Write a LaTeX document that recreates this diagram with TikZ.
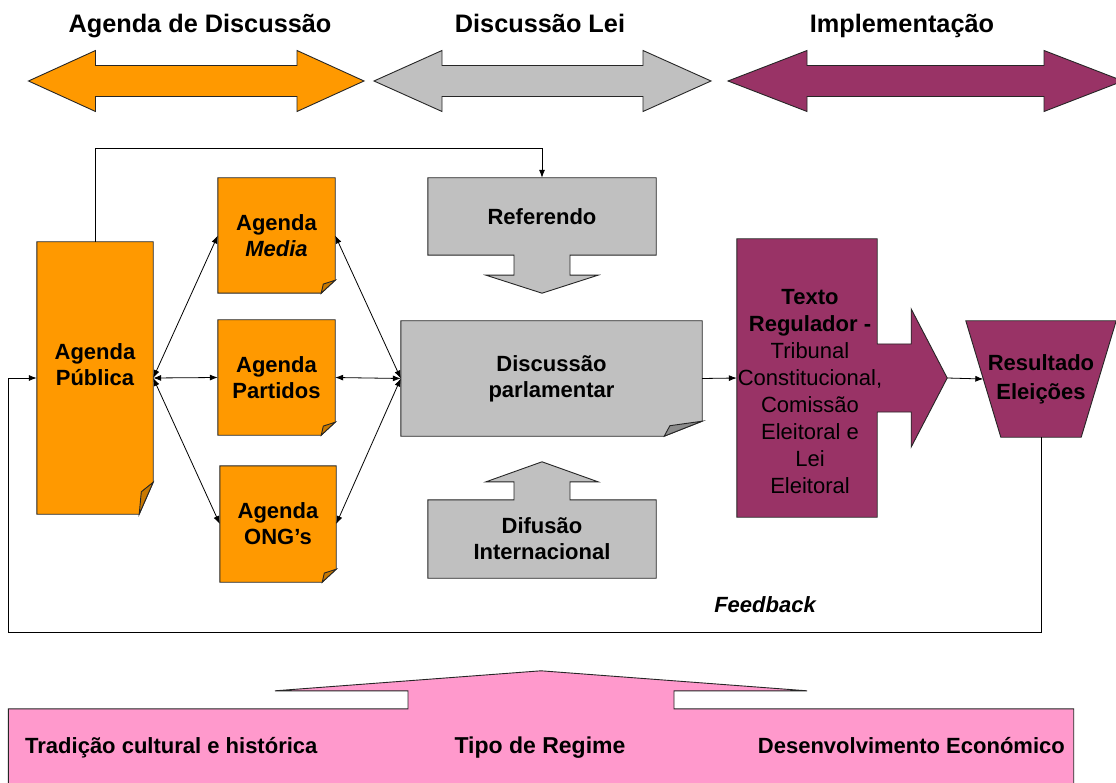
\documentclass[tikz,border=0pt]{standalone}
\usepackage{fontspec}
\setmainfont{Liberation Sans}
\usetikzlibrary{arrows.meta,backgrounds}
\definecolor{laranja}{HTML}{FF9900}
\definecolor{laranjaesc}{HTML}{C87800}
\definecolor{cinza}{HTML}{C0C0C0}
\definecolor{cinzaesc}{HTML}{8C8C8C}
\definecolor{roxo}{HTML}{993366}
\definecolor{rosa}{HTML}{FF99CC}
\definecolor{contorno}{HTML}{262626}
\tikzset{
  every node/.style={font=\bfseries\fontsize{22}{26}\selectfont,align=center,inner sep=0pt},
  box/.style 2 args={minimum width=#1pt,minimum height=#2pt},
  shape line/.style={draw=contorno,line width=0.9pt,line join=miter},
  link/.style={draw=black,line width=0.8pt,>={Latex[length=8pt,width=6pt]}},
  head/.style={font=\bfseries\fontsize{25.3}{30}\selectfont,anchor=base}
}
% folded note: node, fill, fold colour, fold width, fold height
\newcommand\note[5]{%
  \filldraw[shape line,fill=#2] (#1.north west) -- (#1.north east)
    -- ([yshift=#5pt]#1.south east) -- ([xshift=-#4pt]#1.south east)
    -- (#1.south west) -- cycle;
  \filldraw[shape line,fill=#3] ([yshift=#5pt]#1.south east)
    -- ([xshift={-0.85*#4pt},yshift={0.7*#5pt}]#1.south east)
    -- ([xshift=-#4pt]#1.south east) -- cycle;}
% double arrow: left tip, right tip, head length, colour
\newcommand\phase[4]{%
  \filldraw[shape line,fill=#4] (#1,81) -- ++(#3,-30.5) -- ++(0,15) -- (#2-#3,65.5)
    -- ++(0,-15) -- (#2,81) -- ++(-#3,30.5) -- ++(0,-15) -- (#1+#3,96.5) -- ++(0,15) -- cycle;}

\begin{document}
\begin{tikzpicture}[x=1pt,y=-1pt]
    \useasboundingbox (0,0) rectangle (1116,783);
    \begin{scope}[on background layer]
        \fill[white] (0,0) rectangle (1116,783);
    \end{scope}

    \phase{28.5}{364}{67}{laranja}
    \phase{374}{711}{68}{cinza}
    \phase{728}{1123}{79}{roxo}
    \node[head] (fase1) at (200,33) {Agenda de Discussão};
    \node[head] (fase2) at (540,33) {Discussão Lei};
    \node[head] (fase3) at (902,33) {Implementação};

    \node[box={116}{272}] (pub) at (95,378) {};
    \node (pubtxt) at (95,365) {Agenda\\Pública};
    \node[box={117}{115}] (med) at (276.5,235.5) {Agenda\\\textit{Media}};
    \node[box={117}{115}] (par) at (276.5,377.5) {Agenda\\Partidos};
    \node[box={116}{116}] (ong) at (278,524) {Agenda\\ONG’s};
    \node[box={228}{77}] (ref) at (542,216.5) {Referendo};
    \node[box={301}{115}] (dis) at (551.5,378.5) {Discussão\\parlamentar};
    \node[box={228}{78}] (dif) at (542,539) {Difusão\\Internacional};
    \node[box={140}{278}] (txt) at (807,378) {};
    \node[font=\mdseries\fontsize{22}{27}\selectfont] (txtlbl) at (810,392)
        {\textbf{Texto}\\\textbf{Regulador -}\\Tribunal\\Constitucional,\\Comissão\\Eleitoral e\\Lei\\Eleitoral};
    \node[box={115}{116},font=\bfseries\fontsize{22}{29}\selectfont] (res) at (1041,379) {Resultado\\Eleições};
    \node[box={1065}{91}] (base) at (541,754.5) {};
    \node[anchor=base west] (trad) at (25,753) {Tradição cultural e histórica};
    \node[anchor=base,font=\bfseries\fontsize{23}{26}\selectfont] (reg) at (540,753) {Tipo de Regime};
    \node[anchor=base east] (eco) at (1065,753) {Desenvolvimento Económico};
    \node[font=\bfseries\itshape\fontsize{22}{26}\selectfont] (fb) at (765,605) {Feedback};
    \coordinate (tip) at ([xshift=70pt]txt.east);
    \coordinate (canto) at (8,632);

    \begin{scope}[on background layer]
        \note{pub}{laranja}{laranjaesc}{14}{32}
        \foreach \n in {med,par,ong} {\note{\n}{laranja}{laranjaesc}{14}{13}}
        \note{dis}{cinza}{cinzaesc}{38}{15}
        \filldraw[shape line,fill=cinza] (ref.north west) -- (ref.north east) -- (ref.south east)
            -- ([xshift=28pt]ref.south) -- ++(0,20) -- ++(28,0) -- ++(-56,18) -- ++(-56,-18)
            -- ++(28,0) -- ++(0,-20) -- (ref.south west) -- cycle;
        \filldraw[shape line,fill=cinza] (dif.south west) -- (dif.south east) -- (dif.north east)
            -- ([xshift=28pt]dif.north) -- ++(0,-18) -- ++(28,0) -- ++(-56,-20) -- ++(-56,20)
            -- ++(28,0) -- ++(0,18) -- (dif.north west) -- cycle;
        \filldraw[shape line,fill=roxo] (txt.north west) -- (txt.north east)
            -- ([yshift=34pt]txt.east) -- ++(34,0) -- ++(0,-35) -- (tip) -- ++(-36,69)
            -- ++(0,-35) -- ++(-34,0) -- (txt.south east) -- (txt.south west) -- cycle;
        \filldraw[shape line,fill=roxo] ([xshift=-17.5pt]res.north west) -- ([xshift=17.5pt]res.north east)
            -- ([xshift=-17.5pt]res.south east) -- ([xshift=17.5pt]res.south west) -- cycle;
        \filldraw[shape line,fill=rosa] (base.south west) -- (base.north west)
            -- ([xshift=-133pt]base.north) -- ++(0,-18) -- ++(-133,0) -- ++(266,-20) -- ++(266,20)
            -- ++(-133,0) -- ++(0,18) -- (base.north east) -- (base.south east) -- cycle;
    \end{scope}

    \draw[link,->] (pub.north) -- ++(0,-93) -| (ref.north);
    \foreach \n in {med,par,ong} {
        \draw[link,<->] (pub.east) -- (\n.west);
        \draw[link,<->] (\n.east) -- (dis.west);
    }
    \draw[link,->] (dis.east) -- (txt.west);
    \draw[link,->] (tip) -- (res.west);
    \draw[link,->] (res.south) |- (canto) |- (pub.west);
\end{tikzpicture}
\end{document}
